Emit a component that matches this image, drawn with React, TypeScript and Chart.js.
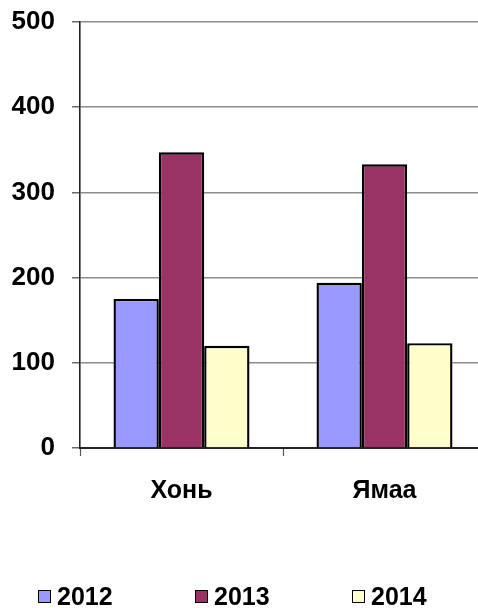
import React, { useEffect, useRef } from "react";
import { Chart, registerables } from "chart.js";

Chart.register(...registerables);

const categories = ["Хонь", "Ямаа"];
const seriesNames = ["2012", "2013", "2014"];
const values2012 = [175, 194];
const values2013 = [347, 333];
const values2014 = [120, 123];
const seriesColors = ["#9999FF", "#993366", "#FFFFCC"];
const yTicks = [0, 100, 200, 300, 400, 500];

const FONT = "'Liberation Sans', Arial, sans-serif";

export default function App() {
  const canvasRef = useRef<HTMLCanvasElement | null>(null);

  useEffect(() => {
    if (!canvasRef.current) return;
    const seriesValues = [values2012, values2013, values2014];
    const chart = new Chart(canvasRef.current, {
      type: "bar",
      data: {
        labels: categories,
        datasets: seriesNames.map((name, i) => ({
          label: name,
          data: seriesValues[i],
          backgroundColor: seriesColors[i],
          borderColor: "#000000",
          borderWidth: 2.4,
          categoryPercentage: 0.67,
          barPercentage: 1.0,
        })),
      },
      options: {
        animation: false,
        responsive: true,
        maintainAspectRatio: false,
        layout: { padding: { top: 22, left: 0, right: 10, bottom: 0 } },
        plugins: {
          legend: { display: false },
          tooltip: { enabled: false },
        },
        scales: {
          x: {
            offset: true,
            afterFit: (scale: any) => {
              scale.height = 160;
              scale.paddingLeft = 0;
              scale.paddingRight = 0;
            },
            grid: {
              display: true,
              offset: true,
              drawOnChartArea: false,
              drawTicks: true,
              tickLength: 8,
              tickColor: "#555555",
              tickWidth: 1.2,
            },
            border: { display: true, color: "#222222", width: 2 },
            ticks: {
              color: "#000000",
              padding: 20,
              font: { family: FONT, size: 25, weight: "bold" },
            },
          },
          y: {
            min: 0,
            max: 500,
            afterFit: (scale: any) => {
              scale.width = 80;
              scale.paddingTop = 0;
              scale.paddingBottom = 0;
            },
            afterBuildTicks: (scale: any) => {
              scale.ticks = yTicks.map((v) => ({ value: v }));
            },
            grid: {
              color: "#8c8c8c",
              lineWidth: 1.6,
              drawTicks: true,
              tickLength: 8,
              tickColor: "#444444",
              tickWidth: 1.2,
            },
            border: { display: true, color: "#222222", width: 1.6 },
            ticks: {
              color: "#000000",
              padding: 17,
              font: { family: FONT, size: 26, weight: "bold" },
            },
          },
        },
      },
    });
    return () => chart.destroy();
  }, []);

  const legendLefts = [38, 195, 352];

  return (
    <div
      style={{
        position: "fixed",
        left: 0,
        top: 0,
        width: 478,
        height: 608,
        overflow: "hidden",
        background: "#ffffff",
      }}
    >
      <div style={{ position: "absolute", left: 0, top: 0, width: 496, height: 608 }}>
        <canvas ref={canvasRef} />
      </div>
      {seriesNames.map((name, i) => (
        <div
          key={name}
          style={{
            position: "absolute",
            left: legendLefts[i],
            top: 584,
            height: 25,
            display: "flex",
            alignItems: "center",
            fontFamily: FONT,
            fontWeight: "bold",
            fontSize: 25,
            lineHeight: "25px",
            color: "#000000",
          }}
        >
          <span
            style={{
              display: "inline-block",
              width: 11,
              height: 11,
              border: "1.5px solid #000000",
              background: seriesColors[i],
              marginRight: 6,
            }}
          />
          <span>{name}</span>
        </div>
      ))}
    </div>
  );
}
